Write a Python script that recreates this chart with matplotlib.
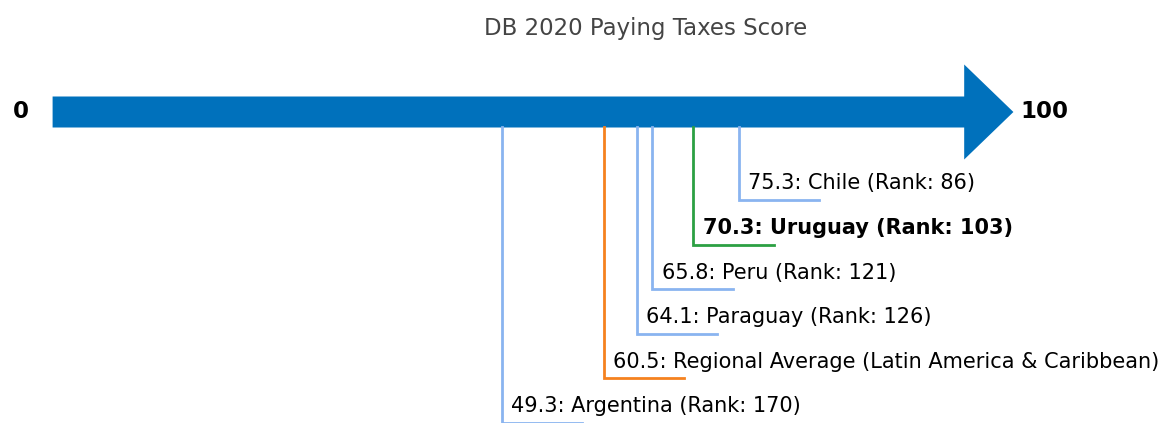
import matplotlib
matplotlib.use("Agg")
from matplotlib import pyplot as plt
from matplotlib.patches import FancyArrow

plt.rcParams["font.family"] = ["DejaVu Sans"]

# data
labels = [
    "Chile (Rank: 86)",
    "Uruguay (Rank: 103)",
    "Peru (Rank: 121)",
    "Paraguay (Rank: 126)",
    "Regional Average (Latin America & Caribbean)",
    "Argentina (Rank: 170)",
]
scores = [75.3, 70.3, 65.8, 64.1, 60.5, 49.3]
line_colors = ["#8ab4f0", "#2ca043", "#8ab4f0", "#8ab4f0", "#f5821f", "#8ab4f0"]
bold = [False, True, False, False, False, False]

fig = plt.figure(figsize=(11.62, 4.23), dpi=100)
ax = fig.add_axes([0, 0, 1, 1])
ax.set_xlim(-5.77, 121.7)
ax.set_ylim(423, 0)
ax.axis("off")

axis_y = 112
ax.add_patch(FancyArrow(0, axis_y, 105.4, 0, width=31, head_width=95,
                        head_length=5.4, length_includes_head=True,
                        color="#0071bc", lw=0))
ax.text(-2.6, axis_y, "0", ha="right", va="center", fontsize=16.5, fontweight="bold")
ax.text(106.2, axis_y, "100", ha="left", va="center", fontsize=16.5, fontweight="bold")

ax.text(65.0, 28, "DB 2020 Paying Taxes Score", ha="center", va="center",
        fontsize=16.5, color="#444444")

level0 = 200
step = 44.6
for i, (lab, s, c, b) in enumerate(zip(labels, scores, line_colors, bold)):
    y = level0 + i * step
    ax.plot([s, s, s + 8.8], [axis_y + 15.5, y, y], color=c, lw=2,
            solid_joinstyle="miter", zorder=1)
    ax.text(s + 1.0, y - 16.5, f"{s}: {lab}", ha="left", va="center", fontsize=15,
            fontweight="bold" if b else "normal", color="black")

fig.savefig("out.png", dpi=100)
